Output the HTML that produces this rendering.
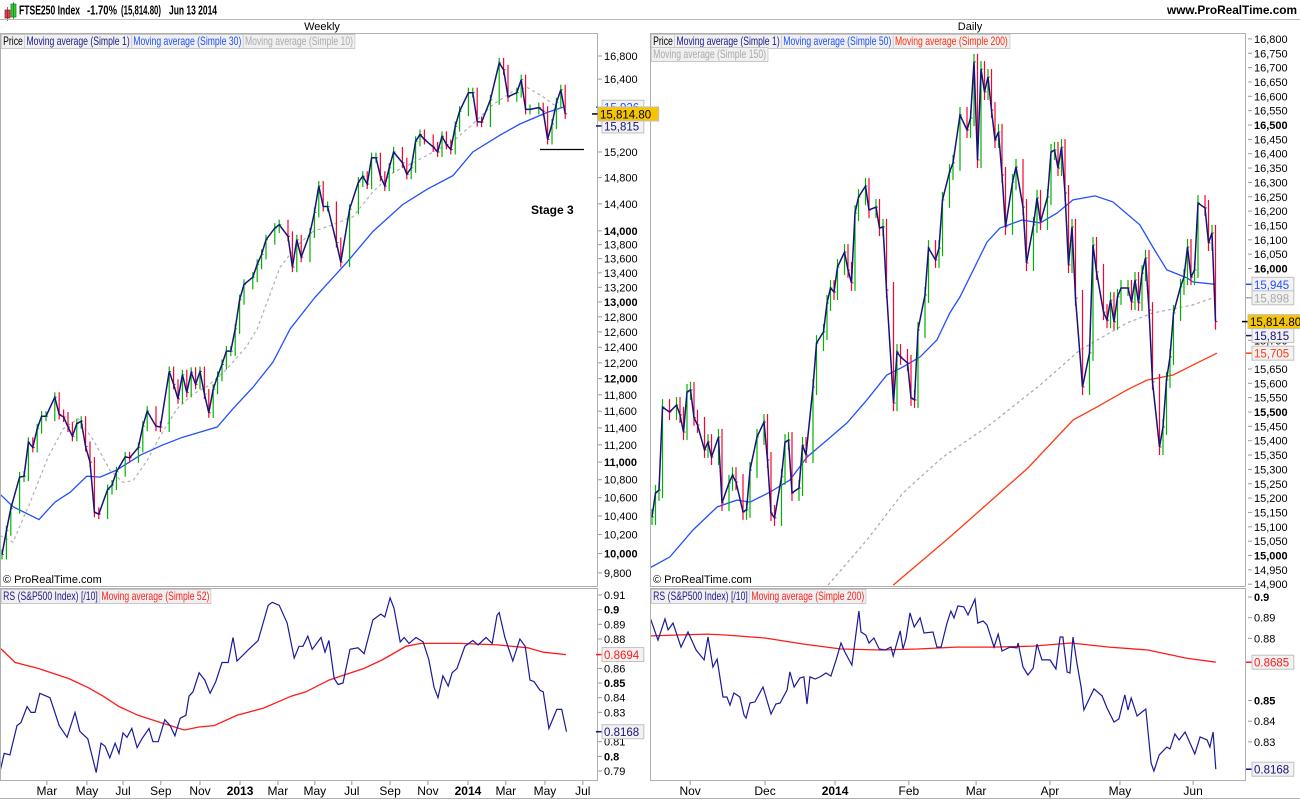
<!DOCTYPE html>
<html><head><meta charset="utf-8">
<style>
html,body{margin:0;padding:0;background:#fff;}
body{width:1300px;height:800px;position:relative;overflow:hidden;font-family:"Liberation Sans",sans-serif;}
svg{position:absolute;left:0;top:0;}
.lg{position:absolute;height:14px;font-size:12px;line-height:13px;white-space:nowrap;transform:scaleX(0.72);transform-origin:0 0;}
.lg span{display:inline-block;background:#f0f0f0;border:1px solid #c8c8c8;padding:0 2px;margin-right:-1px;}
</style></head><body>
<svg id="chart" width="1300" height="800" xmlns="http://www.w3.org/2000/svg" font-family="Liberation Sans, sans-serif">
  <defs>
    <clipPath id="cWP"><rect x="1" y="34" width="596" height="552"/></clipPath>
    <clipPath id="cWR"><rect x="1" y="589" width="596" height="191"/></clipPath>
    <clipPath id="cDP"><rect x="651" y="34" width="594" height="552"/></clipPath>
    <clipPath id="cDR"><rect x="651" y="589" width="594" height="191"/></clipPath>
  </defs>
  <g>
    <rect x="5" y="10" width="5" height="8" fill="#e04050" stroke="#802020" stroke-width="0.7"/>
    <line x1="7.5" y1="7" x2="7.5" y2="21" stroke="#802020" stroke-width="0.7"/>
    <rect x="11" y="4" width="5" height="13" fill="#30d030" stroke="#207020" stroke-width="0.7"/>
    <line x1="13.5" y1="2" x2="13.5" y2="19" stroke="#207020" stroke-width="0.7"/>
    <text x="19" y="14.5" font-size="13" font-weight="bold" textLength="61" lengthAdjust="spacingAndGlyphs">FTSE250 Index</text>
    <text x="87" y="14.5" font-size="13" font-weight="bold" textLength="30" lengthAdjust="spacingAndGlyphs">-1.70%</text>
    <text x="121" y="14.5" font-size="13" font-weight="bold" textLength="40" lengthAdjust="spacingAndGlyphs">(15,814.80)</text>
    <text x="169" y="14.5" font-size="13" font-weight="bold" textLength="48" lengthAdjust="spacingAndGlyphs">Jun 13 2014</text>
    <text x="1297" y="14" font-size="12" font-weight="bold" fill="#000" text-anchor="end" textLength="130" lengthAdjust="spacingAndGlyphs">www.ProRealTime.com</text>
    <line x1="0" y1="19.5" x2="1300" y2="19.5" stroke="#bbb"/>
    <text x="322" y="30" font-size="11" text-anchor="middle">Weekly</text>
    <text x="970" y="30" font-size="11" text-anchor="middle">Daily</text>
  </g>
  <g id="frames"></g>
  <g id="wp" clip-path="url(#cWP)"></g>
  <g id="wr" clip-path="url(#cWR)"></g>
  <g id="dp" clip-path="url(#cDP)"></g>
  <g id="dr" clip-path="url(#cDR)"></g>
  <g id="axes"></g>
  <g id="badges"></g>
  <g>
    <line x1="540" y1="149.5" x2="584" y2="149.5" stroke="#000" stroke-width="1.2"/>
    <text x="531" y="214" font-size="12" font-weight="bold">Stage 3</text>
    <text x="3" y="583" font-size="11">© ProRealTime.com</text>
    <text x="653" y="583" font-size="11">© ProRealTime.com</text>
  </g>
</svg>
<div class="lg" style="left:1px;top:34px;"><span style="color:#000">Price</span><span style="color:#1a1a8c">Moving average (Simple 1)</span><span style="color:#2050ff">Moving average (Simple 30)</span><span style="color:#aaa">Moving average (Simple 10)</span></div>
<div class="lg" style="left:651px;top:34px;"><span style="color:#000">Price</span><span style="color:#1a1a8c">Moving average (Simple 1)</span><span style="color:#2050ff">Moving average (Simple 50)</span><span style="color:#ff3010">Moving average (Simple 200)</span></div>
<div class="lg" style="left:651px;top:47px;"><span style="color:#aaa">Moving average (Simple 150)</span></div>
<div class="lg" style="left:1px;top:589px;"><span style="color:#1a1a8c">RS (S&amp;P500 Index) [/10]</span><span style="color:#ff2020">Moving average (Simple 52)</span></div>
<div class="lg" style="left:651px;top:589px;"><span style="color:#1a1a8c">RS (S&amp;P500 Index) [/10]</span><span style="color:#ff2020">Moving average (Simple 200)</span></div>
<script>
// ===== Weekly data =====
const wWeek = [0,1,2,4,5,6,7,8,9,10,12,13,14,15,16,17,18,19,20,21,22,24,25,26,28,29,31,32,33,35,36,38,39,40,41,42,43,44,45,46,47,48,49,50,51,52,53,54,55,57,58,59,60,62,63,65,66,67,68,70,71,72,73,74,76,77,79,81,82,83,84,85,86,87,88,89,91,92,93,94,95,96,98,99,100,101,102,103,104,106,107,108,109,111,113,114,115,117,118,119,120,122,123,124,125,126,127,128];
const wClose = [9990,10240,10480,10830,10840,11230,11170,11390,11540,11540,11770,11560,11530,11410,11300,11450,11480,11180,11000,10440,10420,10690,10740,10890,11060,11050,11170,11420,11600,11420,11410,12090,11930,11750,12050,11830,12080,11930,12090,11810,11580,11870,12030,12180,12350,12350,12640,13030,13240,13340,13520,13660,13870,14040,14090,13920,13480,13870,13620,13970,14270,14670,14360,14360,13830,13550,14320,14730,14820,14700,15110,15110,14820,14670,14950,15200,15030,14850,14950,15370,15480,15400,15280,15200,15450,15320,15240,15610,15860,16170,16170,15690,15680,16050,16680,16560,16100,16170,16390,15890,15890,15920,15860,15400,15650,16000,16220,15815];
const wMa30Week = [-0.5,2.5,8.4,12,15.5,19.3,22.3,26.1,31.4,36.6,41.1,45,48.9,52.5,57,61.6,65.5,71.1,78.4,84.3,91.1,96.6,102.5,107,113.2,117.7,123.9,127.5];
const wMa30 = [10640,10500,10360,10550,10660,10840,10830,10910,11080,11200,11290,11350,11410,11630,11890,12210,12640,13060,13550,13990,14390,14620,14830,15200,15470,15650,15840,15926];
const wMa10Week = [-0.5,2.5,6.4,10.5,13.9,17.3,20.7,24.5,27.5,29.8,33,35.9,39.8,43.4,46.6,51.1,55.7,58,63.2,67,70.7,75.2,79.8,84.3,88.9,93.4,98,102.5,107,111.6,116.1,119.3,123,126.1];
const wMa10 = [10190,10120,10550,11060,11390,11510,11260,10910,10770,10790,11020,11300,11630,11810,11900,12120,12420,12640,13480,13780,13990,14090,14210,14580,14880,15030,15200,15370,15650,15970,16190,16260,16100,15930];
const wRsWeek = [-0.5,0.5,1.8,3.4,4.3,5.7,6.6,7.5,8.6,10.9,13,14.8,16.6,17.7,19.5,21.4,22.5,23.4,24.5,25.7,26.6,27.5,28.4,29.5,30.7,31.8,33.4,34.3,35.5,37,38.2,39.3,40.5,41.8,42.5,43.4,44.8,46.1,47.3,48.6,50,51.4,52.5,53.4,56.1,58.2,60.5,61.4,63,64.8,66.4,67.5,68.4,69.5,70.5,72.5,73.4,74.3,75.5,76.4,77.5,79.1,80.9,82.3,84.3,86.1,87,88.2,89.1,90.5,91.4,92.5,94.1,95.7,97,98.2,99.1,100.2,101.4,102.3,103.4,105.2,107,108.2,110,111.4,112.5,113,114.3,116.1,117.7,118.9,120,120.9,122.3,123,124.3,126.1,127.2,128.3];
const wRs = [0.789,0.802,0.801,0.821,0.823,0.834,0.830,0.830,0.843,0.840,0.821,0.813,0.830,0.817,0.812,0.789,0.809,0.807,0.799,0.809,0.802,0.816,0.813,0.819,0.806,0.812,0.819,0.810,0.810,0.825,0.821,0.814,0.826,0.828,0.841,0.844,0.857,0.852,0.843,0.851,0.864,0.864,0.881,0.865,0.873,0.879,0.903,0.905,0.903,0.891,0.867,0.875,0.875,0.882,0.873,0.881,0.871,0.879,0.853,0.849,0.850,0.873,0.874,0.870,0.893,0.897,0.895,0.908,0.901,0.878,0.881,0.877,0.881,0.878,0.866,0.847,0.840,0.855,0.848,0.857,0.860,0.875,0.879,0.876,0.881,0.877,0.896,0.898,0.881,0.865,0.880,0.875,0.852,0.851,0.845,0.844,0.819,0.832,0.832,0.8168];
const wRsMaWeek = [-0.5,3,8.2,15.2,19.5,23,26.6,30.9,36.1,41.4,44.8,48.2,53.4,59.5,65.7,69.1,74.3,82.3,86.6,91.8,95.2,103.9,112.7,119.5,123,128.2];
const wRsMa = [0.874,0.864,0.860,0.853,0.847,0.841,0.834,0.828,0.823,0.818,0.820,0.821,0.828,0.833,0.841,0.844,0.852,0.860,0.866,0.875,0.877,0.877,0.876,0.874,0.871,0.8694];
const wTickLabels = ["Mar","May","Jul","Sep","Nov","2013","Mar","May","Jul","Sep","Nov","2014","Mar","May","Jul"];
const wTickWeeks = [10.2,19.3,27.5,36.1,45,54.1,62.7,71.1,79.5,88.2,96.8,105.9,114.5,123.4,132];
const wPriceLabels = [16800,16400,15200,14800,14400,14000,13800,13600,13400,13200,13000,12800,12600,12400,12200,12000,11800,11600,11400,11200,11000,10800,10600,10400,10200,10000,9800];
const wRsLabels = [0.91,0.9,0.89,0.88,0.86,0.85,0.84,0.83,0.81,0.8,0.79];

// ===== Daily data =====
const dDay = [0,1,2,3,5,7,8,9,10,11,12,13,15,16,17,19,20,22,23,24,26,27,28,30,32,33,34,35,37,38,39,40,42,43,44,46,47,49,50,51,52,53,55,56,57,58,59,61,62,64,65,66,67,69,70,71,73,74,75,76,78,79,81,82,83,85,86,88,90,91,92,93,94,95,96,97,98,99,100,101,103,104,106,107,109,110,111,113,114,115,116,117,118,119,120,121,123,125,126,127,129,130,131,132,133,134,136,137,138,139,140,141,142,143,145,146,147,148,149,151,152,153,154,155,156,158,159,160,161];
const dClose = [15134,15218,15228,15517,15500,15524,15490,15430,15570,15577,15480,15455,15368,15395,15343,15413,15183,15253,15280,15256,15152,15159,15298,15413,15465,15333,15148,15131,15274,15395,15402,15218,15235,15385,15350,15587,15740,15779,15880,15932,15918,16005,16057,15995,15950,16193,16249,16287,16204,16214,16141,16145,15925,15531,15709,15692,15671,15549,15542,15786,15908,16071,16030,16071,16239,16336,16368,16535,16483,16524,16720,16378,16695,16615,16667,16552,16448,16476,16326,16145,16301,16354,16214,16019,16152,16246,16162,16249,16406,16413,16350,16423,16263,16012,16145,15897,15587,15706,16082,15988,15848,15820,15890,15814,15901,15932,15932,15883,15960,15880,15984,16037,15855,15605,15378,15448,15612,15692,15845,15936,15970,16075,15970,15995,16228,16211,16089,16124,15814.8];
const dMa50Day = [-0.6,5.1,11.7,18.6,24.3,28,33.7,39.4,44.3,50,55.7,61.4,67.1,71.7,76.6,81.4,85.1,88,95.7,99.4,105.7,110.9,115.7,120.3,126.6,131.7,139.4,143.1,147.1,152.9,154.6,160.9];
const dMa50 = [14957,14995,15089,15169,15193,15186,15221,15263,15343,15402,15462,15542,15629,15657,15692,15751,15845,15901,16092,16141,16169,16159,16193,16239,16253,16232,16152,16075,15995,15967,15953,15945];
const dMa150Day = [50.3,61.4,71.7,83.1,95.7,110.9,122.3,135.7,143.1,154.6,160.3];
const dMa150 = [14897,15054,15218,15343,15448,15594,15716,15810,15845,15873,15898];
const dMa200Day = [68.9,85.1,107.4,120.3,127.1,135.7,141.4,148.9,154.6,161.4];
const dMa200 = [14897,15064,15305,15472,15517,15577,15611,15629,15664,15705];
const dRsDay = [-0.6,1.7,3.7,4.6,6,8.3,10.3,12.6,14.9,16,17.4,18.6,20.3,21.4,22.3,23.4,25.1,26.3,26.9,28,29.4,31.7,34,35.4,36.6,38.6,39.4,40.6,42.3,43.4,44.3,45.1,46.6,48,49.7,51.1,52.6,54,55.1,57.1,59.1,59.7,61.1,62,63.4,64.9,66.6,68.3,68.9,70.9,71.7,72.6,73.7,74.9,76.6,77.7,80.3,81.4,82.6,84.3,85.4,86.3,87.4,89.1,90.3,92.3,93.1,94.6,95.7,97.7,98.9,100,102.3,104.3,104.6,106,107.4,108.9,110,111.4,113.7,115.4,116.6,117.4,118.6,119.4,120.3,121.4,122.6,123.4,126.3,128.6,130,132,133.4,135.1,136,136.9,138.6,141.1,142.6,143.4,144.9,147.1,148,149.4,150.6,152.3,153.7,155.1,156.6,158.6,159.4,160.3,161.1];
const dRs = [0.8903,0.8792,0.8894,0.8841,0.8874,0.8758,0.8831,0.8744,0.8696,0.8807,0.8662,0.8700,0.8517,0.8517,0.8478,0.8536,0.8517,0.8430,0.8415,0.8488,0.8493,0.8565,0.8435,0.8483,0.8488,0.8551,0.8638,0.8565,0.8609,0.8614,0.8483,0.8614,0.8604,0.8614,0.8633,0.8618,0.8696,0.8778,0.8734,0.8671,0.8932,0.8831,0.8816,0.8778,0.8802,0.8749,0.8744,0.8758,0.8715,0.8836,0.8749,0.8802,0.8923,0.8855,0.8899,0.8826,0.8831,0.8758,0.8758,0.8874,0.8932,0.8899,0.8957,0.8952,0.8913,0.8990,0.8874,0.8884,0.8865,0.8758,0.8821,0.8739,0.8758,0.8754,0.8778,0.8662,0.8623,0.8657,0.8773,0.8696,0.8696,0.8652,0.8807,0.8807,0.8638,0.8633,0.8807,0.8681,0.8565,0.8454,0.8556,0.8522,0.8464,0.8396,0.8411,0.8527,0.8454,0.8512,0.8425,0.8459,0.8198,0.8159,0.8237,0.8275,0.8266,0.8338,0.8309,0.8348,0.8295,0.8242,0.8324,0.8309,0.8275,0.8348,0.8168];
const dRsMaDay = [-0.6,15.7,21.4,32.3,43.1,54,65.1,75.9,86.9,97.7,108.9,119.7,130.6,141.7,152.6,161.1];
const dRsMa = [0.8812,0.8821,0.8816,0.8802,0.8773,0.8749,0.8744,0.8749,0.8758,0.8758,0.8763,0.8778,0.8758,0.8744,0.8705,0.8685];
const dTickLabels = ["Nov","Dec","2014","Feb","Mar","Apr","May","Jun"];
const dTickDays = [10.9,32.3,52.3,73.4,92.6,113.7,133.7,154.6];
const dPriceLabels = [16800,16750,16700,16650,16600,16550,16500,16450,16400,16350,16300,16250,16200,16150,16100,16050,16000,15750,15650,15600,15550,15500,15450,15400,15350,15300,15250,15200,15150,15100,15050,15000,14950,14900];
const dRsLabels = [0.9,0.89,0.88,0.85,0.84,0.83];

// ===== Scales =====
const wx = w => 2 + w * 4.4;
const wy = v => 56 + 959 * Math.log(16800 / v);
const wry = v => 595 + (0.91 - v) * 1467;
const dx = d => 652 + d * 3.5;
const dy = v => 125 + (16500 - v) * 0.287;
const dry = v => 597 + (0.9 - v) * 2070;

const NS = "http://www.w3.org/2000/svg";
function mk(parent, tag, attrs, text) {
  const e = document.createElementNS(NS, tag);
  for (const k in attrs) e.setAttribute(k, attrs[k]);
  if (text !== undefined) e.textContent = text;
  parent.appendChild(e);
  return e;
}
function pathD(xs, ys, fx, fy) {
  const n = Math.min(xs.length, ys.length);
  let d = "";
  for (let i = 0; i < n; i++) d += (i ? "L" : "M") + fx(xs[i]).toFixed(1) + "," + fy(ys[i]).toFixed(1);
  return d;
}

const frames = document.getElementById("frames");
[[0.5,33.5,597,553],[0.5,588.5,597,192],[650.5,33.5,595,553],[650.5,588.5,595,192]].forEach((r, i) => {
  const el = mk(frames, "rect", {x:r[0], y:r[1], width:r[2], height:r[3], fill:"none", stroke:"#b0b0b0"});
  
  
});
const bl = mk(frames, "line", {x1:0, y1:798.5, x2:1300, y2:798.5, stroke:"#b0b0b0"});



function drawBars(g, xs, cl, fx, fy, ext, name) {
  const n = Math.min(xs.length, cl.length);
  for (let i = 0; i < n; i++) {
    const prev = i ? cl[i - 1] : cl[i];
    const up = cl[i] >= prev;
    const y1 = Math.min(fy(prev), fy(cl[i])) - ext, y2 = Math.max(fy(prev), fy(cl[i])) + ext;
    const x = fx(xs[i]);
    const col = up ? "#00b400" : "#ff0030";
    const b = mk(g, "line", {x1:x, y1:y1, x2:x, y2:y2, stroke:col, "stroke-width":1.2});
    
    
    mk(g, "line", {x1:x, y1:fy(cl[i]), x2:x + 2, y2:fy(cl[i]), stroke:col, "stroke-width":1});
  }
}
function line(g, xs, ys, fx, fy, attrs, name) {
  const a = Object.assign({d: pathD(xs, ys, fx, fy), fill:"none"}, attrs);
  const el = mk(g, "path", a);
  
  
}

const wp = document.getElementById("wp");
line(wp, wMa10Week, wMa10, wx, wy, {stroke:"#b0b0b0", "stroke-width":1.2, "stroke-dasharray":"3,3"}, "weekly-ma10-line");
line(wp, wMa30Week, wMa30, wx, wy, {stroke:"#2050ff", "stroke-width":1.3}, "weekly-ma30-line");
drawBars(wp, wWeek, wClose, wx, wy, 5, "weekly-price-bar");
line(wp, wWeek, wClose, wx, wy, {stroke:"#14147a", "stroke-width":1.5}, "weekly-close-line");

const wr = document.getElementById("wr");
line(wr, wRsMaWeek, wRsMa, wx, wry, {stroke:"#ff1a1a", "stroke-width":1.3}, "weekly-rs-ma52-line");
line(wr, wRsWeek, wRs, wx, wry, {stroke:"#1a1a9a", "stroke-width":1.2}, "weekly-rs-line");

const dp = document.getElementById("dp");
line(dp, dMa150Day, dMa150, dx, dy, {stroke:"#a8a8a8", "stroke-width":1.2, "stroke-dasharray":"3,3"}, "daily-ma150-line");
line(dp, dMa200Day, dMa200, dx, dy, {stroke:"#ff3a10", "stroke-width":1.3}, "daily-ma200-line");
line(dp, dMa50Day, dMa50, dx, dy, {stroke:"#2050ff", "stroke-width":1.3}, "daily-ma50-line");
drawBars(dp, dDay, dClose, dx, dy, 8, "daily-price-bar");
line(dp, dDay, dClose, dx, dy, {stroke:"#14147a", "stroke-width":1.5}, "daily-close-line");

const dr = document.getElementById("dr");
line(dr, dRsMaDay, dRsMa, dx, dry, {stroke:"#ff1a1a", "stroke-width":1.3}, "daily-rs-ma200-line");
line(dr, dRsDay, dRs, dx, dry, {stroke:"#1a1a9a", "stroke-width":1.2}, "daily-rs-line");

const axes = document.getElementById("axes");
function yLabels(vals, fy, x, fmt, boldFn, name) {
  vals.forEach(v => {
    const y = fy(v);
    mk(axes, "line", {x1:x - 5, y1:y, x2:x - 1, y2:y, stroke:"#999"});
    const t = mk(axes, "text", {x:x + 1, y:y + 4, "font-size":11, "font-weight": boldFn(v) ? "bold" : "normal", fill:"#000"}, fmt(v));
    
    
  });
}
const comma = v => v.toLocaleString("en-US");
yLabels(wPriceLabels, wy, 603, comma, v => v % 1000 === 0, "weekly-price-tick");
yLabels(wRsLabels, wry, 603, v => String(v), v => Math.round(v * 1000) % 50 === 0, "weekly-rs-tick");
yLabels(dPriceLabels, dy, 1253, comma, v => v % 500 === 0, "daily-price-tick");
yLabels(dRsLabels, dry, 1253, v => String(v), v => Math.round(v * 1000) % 50 === 0, "daily-rs-tick");

function xLabels(labels, pos, fx, name) {
  const n = Math.min(labels.length, pos.length);
  for (let i = 0; i < n; i++) {
    const x = fx(pos[i]);
    mk(axes, "line", {x1:x, y1:781, x2:x, y2:785, stroke:"#999"});
    const bold = /^\d{4}$/.test(labels[i]);
    const t = mk(axes, "text", {x:x, y:795, "font-size":12, "text-anchor":"middle", "font-weight": bold ? "bold" : "normal"}, labels[i]);
    
    
  }
}
xLabels(wTickLabels, wTickWeeks, wx, "weekly-x-tick");
xLabels(dTickLabels, dTickDays, dx, "daily-x-tick");

const badges = document.getElementById("badges");
function badge(x, y, text, col, bg, name) {
  const w = text.length * 6.3 + 4;
  mk(badges, "line", {x1:x - 6, y1:y, x2:x, y2:y, stroke:col, "stroke-width":1.5});
  const r = mk(badges, "rect", {x:x, y:y - 7, width:w, height:14, fill:bg, stroke:"#c0c0c0"});
  
  
  mk(badges, "text", {x:x + 2, y:y + 4.5, "font-size":11.5, fill: bg === "#f7c400" ? "#000" : col}, text);
}
badge(602, wy(15926), "15,926", "#2050ff", "#f2f2f2", "weekly-ma30-badge");
badge(602, wy(15815) + 12, "15,815", "#14147a", "#f2f2f2", "weekly-ma1-badge");
badge(598, wy(15815), "15,814.80", "#000", "#f7c400", "weekly-last-price-badge");
badge(602, wry(0.8694), "0.8694", "#ff1a1a", "#f2f2f2", "weekly-rs-ma-badge");
badge(602, wry(0.8168), "0.8168", "#14147a", "#f2f2f2", "weekly-rs-badge");
badge(1252, dy(15945), "15,945", "#2050ff", "#f2f2f2", "daily-ma50-badge");
badge(1252, dy(15898), "15,898", "#a8a8a8", "#f2f2f2", "daily-ma150-badge");
badge(1252, dy(15815) + 14, "15,815", "#14147a", "#f2f2f2", "daily-ma1-badge");
badge(1248, dy(15815), "15,814.80", "#000", "#f7c400", "daily-last-price-badge");
badge(1252, dy(15705), "15,705", "#ff3a10", "#f2f2f2", "daily-ma200-badge");
badge(1252, dry(0.8685), "0.8685", "#ff1a1a", "#f2f2f2", "daily-rs-ma-badge");
badge(1252, dry(0.8168), "0.8168", "#14147a", "#f2f2f2", "daily-rs-badge");
</script>
</body></html>
